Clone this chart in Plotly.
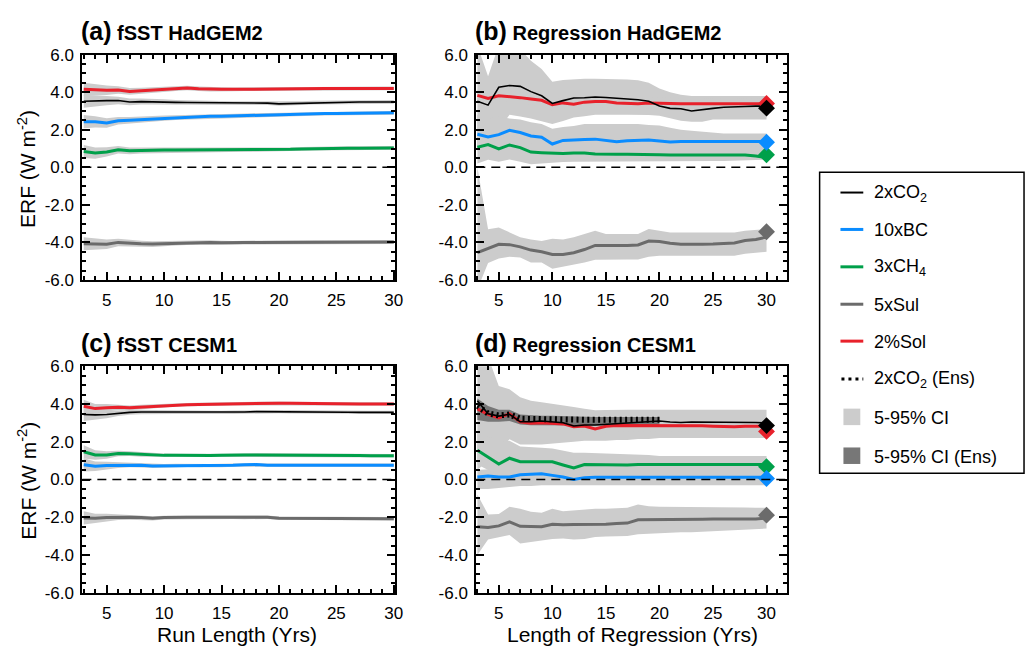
import plotly.graph_objects as go

# ---------------- data ----------------
years = list(range(3, 31))            # run length / length of regression (yrs)
years_ens = list(range(3, 21))

# (a) fSST HadGEM2
a_co2 = [3.52,3.55,3.55,3.56,3.48,3.50,3.50,3.48,3.46,3.45,3.45,3.43,3.42,3.42,3.42,3.42,3.42,3.38,3.40,3.42,3.44,3.45,3.46,3.47,3.48,3.48,3.48,3.48]
a_bc = [2.43,2.42,2.36,2.48,2.50,2.53,2.58,2.62,2.65,2.68,2.70,2.72,2.72,2.74,2.76,2.78,2.79,2.80,2.82,2.83,2.85,2.86,2.87,2.88,2.89,2.90,2.90,2.90]
a_ch4 = [0.84,0.76,0.82,0.93,0.88,0.90,0.91,0.92,0.92,0.92,0.92,0.92,0.92,0.92,0.93,0.93,0.93,0.93,0.96,0.98,1.00,1.02,1.02,1.02,1.02,1.02,1.03,1.03]
a_sul = [-4.07,-4.10,-4.10,-4.00,-4.05,-4.07,-4.09,-4.07,-4.04,-4.02,-4.00,-4.00,-4.02,-4.03,-4.01,-4.00,-4.00,-4.00,-3.99,-3.99,-3.98,-3.98,-3.97,-3.97,-3.98,-3.98,-3.98,-3.98]
a_sol = [4.15,4.12,4.10,4.12,4.04,4.08,4.12,4.16,4.20,4.22,4.18,4.15,4.15,4.15,4.16,4.17,4.17,4.17,4.18,4.18,4.18,4.19,4.19,4.19,4.20,4.20,4.20,4.20]
a_ci = [0.35,0.30,0.25,0.20,0.18,0.16,0.15,0.14,0.13,0.12,0.12,0.11,0.11,0.10,0.10,0.10,0.10,0.10,0.10,0.10,0.10,0.10,0.10,0.10,0.10,0.10,0.10,0.10]

# (c) fSST CESM1
c_co2 = [3.45,3.43,3.45,3.52,3.56,3.58,3.58,3.58,3.57,3.56,3.56,3.55,3.56,3.57,3.58,3.60,3.60,3.60,3.59,3.58,3.58,3.57,3.57,3.57,3.56,3.56,3.56,3.56]
c_bc = [0.78,0.70,0.74,0.76,0.78,0.76,0.72,0.72,0.74,0.75,0.74,0.73,0.74,0.76,0.78,0.79,0.76,0.76,0.76,0.76,0.76,0.76,0.76,0.76,0.76,0.76,0.76,0.76]
c_ch4 = [1.47,1.30,1.30,1.38,1.37,1.33,1.30,1.28,1.28,1.27,1.27,1.27,1.28,1.30,1.30,1.30,1.30,1.30,1.30,1.30,1.30,1.30,1.28,1.28,1.27,1.26,1.26,1.26]
c_sul = [-2.04,-2.06,-2.02,-2.00,-2.00,-2.02,-2.06,-2.02,-2.00,-2.00,-2.00,-2.00,-2.00,-2.00,-2.02,-2.02,-2.00,-2.05,-2.05,-2.05,-2.05,-2.05,-2.06,-2.06,-2.07,-2.07,-2.08,-2.08]
c_sol = [3.88,3.76,3.80,3.83,3.80,3.84,3.88,3.92,3.96,3.97,3.98,3.99,4.00,4.02,4.03,4.05,4.05,4.05,4.04,4.03,4.02,4.02,4.02,4.01,4.01,4.01,4.01,4.01]
c_ci = [0.35,0.25,0.20,0.15,0.13,0.12,0.11,0.10,0.09,0.09,0.09,0.09,0.09,0.09,0.09,0.09,0.09,0.09,0.09,0.09,0.09,0.09,0.09,0.09,0.09,0.09,0.09,0.09]

# (b) Regression HadGEM2
b_co2 = [3.52,3.31,4.26,4.36,4.31,4.03,3.81,3.40,3.55,3.69,3.70,3.74,3.72,3.69,3.67,3.60,3.52,3.26,3.14,3.12,3.00,3.05,3.14,3.20,3.24,3.24,3.26,3.26]
b_co2_hi = [6.5,4.85,6.5,6.5,6.3,5.67,5.24,4.55,4.65,4.70,4.72,4.72,4.72,4.70,4.68,4.64,4.50,4.20,4.00,3.86,3.80,3.80,3.80,3.80,3.80,3.80,3.80,3.80]
b_co2_lo = [1.0,1.5,2.0,2.8,2.7,2.6,2.45,2.3,2.47,2.65,2.72,2.8,2.8,2.8,2.8,2.8,2.78,2.74,2.6,2.48,2.43,2.43,2.55,2.55,2.55,2.55,2.55,2.55]
b_bc = [1.76,1.62,1.74,1.97,1.85,1.67,1.60,1.24,1.43,1.47,1.48,1.50,1.45,1.36,1.41,1.45,1.45,1.40,1.35,1.37,1.38,1.39,1.38,1.38,1.37,1.38,1.38,1.38]
b_bc_hi = [2.8,2.6,2.7,2.6,2.55,2.4,2.3,2.05,2.15,2.2,2.3,2.3,2.3,2.3,2.3,2.3,2.25,2.22,2.1,2.0,1.95,1.9,1.85,1.8,1.8,1.8,1.8,1.8]
b_bc_lo = [1.0,0.9,1.0,1.2,1.1,0.95,0.9,0.6,0.75,0.8,0.8,0.85,0.8,0.75,0.8,0.85,0.85,0.8,0.8,0.8,0.8,0.8,0.8,0.8,0.8,0.8,0.8,0.8]
b_ch4 = [1.07,1.21,0.98,1.19,1.05,0.81,0.78,0.74,0.74,0.76,0.76,0.71,0.69,0.69,0.69,0.67,0.67,0.67,0.66,0.66,0.66,0.66,0.67,0.67,0.67,0.66,0.60,0.52]
b_ch4_hi = [1.6,1.7,1.5,1.7,1.55,1.3,1.25,1.2,1.2,1.25,1.25,1.2,1.2,1.2,1.2,1.15,1.15,1.15,1.15,1.15,1.15,1.15,1.15,1.15,1.15,1.15,1.1,1.05]
b_ch4_lo = [0.2,0.4,0.3,0.41,0.3,0.16,0.2,0.24,0.28,0.3,0.32,0.33,0.33,0.33,0.33,0.33,0.33,0.33,0.33,0.33,0.33,0.33,0.33,0.33,0.33,0.35,0.38,0.4]
b_sul = [-4.55,-4.33,-4.10,-4.12,-4.24,-4.41,-4.50,-4.64,-4.64,-4.55,-4.38,-4.16,-4.17,-4.17,-4.17,-4.14,-3.93,-3.95,-4.05,-4.10,-4.12,-4.10,-4.09,-4.07,-4.03,-3.90,-3.84,-3.72]
b_sul_hi = [0.0,-3.3,-3.21,-3.47,-3.72,-3.84,-3.93,-3.81,-3.84,-3.72,-3.55,-3.38,-3.55,-3.55,-3.55,-3.55,-3.29,-3.4,-3.47,-3.47,-3.47,-3.47,-3.47,-3.47,-3.47,-3.38,-3.33,-3.29]
b_sul_lo = [-6.5,-5.1,-4.86,-4.76,-4.81,-5.07,-5.07,-5.4,-5.3,-5.19,-5.07,-4.93,-4.91,-4.91,-4.91,-4.91,-4.76,-4.71,-4.71,-4.71,-4.71,-4.71,-4.71,-4.71,-4.71,-4.6,-4.55,-4.5]
b_sol = [3.83,3.67,3.81,3.78,3.71,3.64,3.57,3.33,3.43,3.36,3.47,3.50,3.50,3.43,3.40,3.38,3.43,3.40,3.40,3.38,3.38,3.37,3.36,3.36,3.35,3.35,3.36,3.38]
b_sol_ci = [0.3,0.3,0.3,0.3,0.3,0.3,0.3,0.3,0.3,0.3,0.3,0.3,0.3,0.3,0.3,0.3,0.3,0.3,0.3,0.3,0.3,0.3,0.3,0.3,0.3,0.3,0.3,0.3]
b_end = {"co2": 3.15, "bc": 1.33, "ch4": 0.67, "sul": -3.43, "sol": 3.40}

# (d) Regression CESM1
d_co2 = [4.18,3.49,3.36,3.46,3.06,3.06,3.10,3.06,3.01,2.84,2.89,2.89,2.93,2.98,3.01,3.06,3.06,3.10,3.05,3.02,3.05,3.05,3.05,3.04,3.05,3.04,3.02,3.00]
d_co2_hi = [6.5,6.5,4.96,4.79,4.36,4.18,4.1,4.0,3.92,3.84,3.75,3.67,3.68,3.7,3.7,3.7,3.7,3.7,3.7,3.7,3.7,3.7,3.7,3.7,3.7,3.7,3.7,3.7]
d_co2_lo = [0.5,1.0,1.5,2.13,1.86,1.86,1.86,1.9,1.95,2.0,2.05,2.05,2.05,2.1,2.1,2.15,2.15,2.2,2.2,2.2,2.2,2.2,2.2,2.2,2.2,2.2,2.2,2.2]
d_bc = [0.13,0.18,0.13,0.13,0.25,0.28,0.30,0.22,0.13,0.00,0.10,0.12,0.12,0.12,0.13,0.14,0.14,0.14,0.13,0.13,0.12,0.12,0.12,0.12,0.12,0.12,0.12,0.12]
d_bc_hi = [0.5,0.55,0.5,0.5,0.6,0.62,0.65,0.57,0.48,0.35,0.45,0.47,0.47,0.47,0.48,0.49,0.49,0.49,0.48,0.48,0.47,0.47,0.47,0.47,0.47,0.47,0.47,0.47]
d_bc_lo = [-0.5,-0.5,-0.46,-0.4,-0.35,-0.35,-0.3,-0.3,-0.3,-0.32,-0.3,-0.3,-0.3,-0.3,-0.3,-0.3,-0.3,-0.3,-0.3,-0.3,-0.3,-0.3,-0.3,-0.3,-0.3,-0.3,-0.3,-0.3]
d_ch4 = [1.55,1.20,0.82,1.13,0.94,0.94,0.94,0.94,0.77,0.61,0.79,0.78,0.77,0.76,0.77,0.80,0.80,0.80,0.79,0.78,0.78,0.79,0.80,0.80,0.80,0.80,0.80,0.80]
d_ch4_hi = [2.5,2.3,2.0,2.05,1.75,1.7,1.68,1.65,1.55,1.42,1.42,1.4,1.4,1.38,1.35,1.32,1.3,1.25,1.25,1.25,1.25,1.25,1.25,1.25,1.25,1.25,1.25,1.25]
d_ch4_lo = [0.8,0.5,0.2,0.5,0.4,0.4,0.4,0.4,0.3,0.2,0.3,0.3,0.3,0.3,0.3,0.35,0.35,0.35,0.35,0.35,0.35,0.35,0.35,0.35,0.35,0.35,0.35,0.35]
d_sul = [-2.51,-2.54,-2.46,-2.25,-2.48,-2.51,-2.50,-2.37,-2.40,-2.39,-2.39,-2.39,-2.37,-2.33,-2.31,-2.14,-2.14,-2.13,-2.13,-2.12,-2.12,-2.11,-2.10,-2.10,-2.09,-2.09,-2.09,-2.05]
d_sul_hi = [-0.8,-1.85,-1.83,-1.45,-1.55,-1.71,-1.76,-1.55,-1.68,-1.63,-1.6,-1.55,-1.55,-1.52,-1.5,-1.33,-1.42,-1.45,-1.45,-1.45,-1.45,-1.45,-1.47,-1.47,-1.48,-1.48,-1.5,-1.5]
d_sul_lo = [-4.0,-3.18,-3.06,-2.94,-3.4,-3.32,-3.23,-3.15,-3.13,-3.18,-3.15,-3.05,-3.02,-3.0,-3.0,-2.9,-2.85,-2.84,-2.82,-2.8,-2.8,-2.78,-2.75,-2.72,-2.7,-2.66,-2.63,-2.6]
d_sol = [3.75,3.46,3.27,3.49,3.06,2.98,3.01,2.98,2.95,2.80,2.84,2.68,2.82,2.86,2.86,2.85,2.85,2.86,2.88,2.88,2.86,2.85,2.83,2.80,2.80,2.82,2.82,2.82]
d_sol_ci = [0.3,0.3,0.3,0.3,0.3,0.3,0.3,0.3,0.3,0.3,0.3,0.3,0.3,0.3,0.3,0.3,0.3,0.3,0.3,0.3,0.3,0.3,0.3,0.3,0.3,0.3,0.3,0.3]
d_ens = [3.9,3.5,3.4,3.45,3.22,3.2,3.2,3.2,3.2,3.18,3.17,3.17,3.17,3.17,3.17,3.17,3.17,3.17]
d_ens_hi = [4.3,3.9,3.7,3.7,3.45,3.4,3.38,3.38,3.36,3.35,3.33,3.32,3.32,3.32,3.32,3.32,3.32,3.32]
d_ens_lo = [3.15,3.06,3.06,3.1,2.92,2.88,2.88,2.86,2.86,2.86,2.86,2.86,2.86,2.86,2.86,2.86,2.86,2.86]
d_end = {"co2": 2.86, "bc": 0.05, "ch4": 0.68, "sul": -1.89, "sol": 2.55}

y_ticks = [-6, -4, -2, 0, 2, 4, 6]
y_ticktext = ["-6.0", "-4.0", "-2.0", "0.0", "2.0", "4.0", "6.0"]
x_ticks = [5, 10, 15, 20, 25, 30]

legend_labels = ["2xCO<sub>2</sub>", "10xBC", "3xCH<sub>4</sub>", "5xSul", "2%Sol",
                 "2xCO<sub>2</sub> (Ens)", "5-95% CI", "5-95% CI (Ens)"]

# ---------------- styles ----------------
FONT = "Liberation Sans, Arial, Helvetica, sans-serif"
COL = {"co2": "#000000", "bc": "#0a8cff", "ch4": "#00a04a", "sul": "#6b6b6b", "sol": "#e8212b"}
LW = {"co2": 1.6, "bc": 3, "ch4": 3, "sul": 3, "sol": 3}
CI_FILL = "#cccccc"
ENS_FILL = "#777777"
W, H = 1036, 658

fig = go.Figure()


def band(xa, ya, xs, lo, hi, color):
    fig.add_trace(go.Scatter(x=list(xs) + list(xs)[::-1], y=list(hi) + list(lo)[::-1],
                             fill="toself", fillcolor=color, line=dict(width=0),
                             mode="lines", hoverinfo="skip", showlegend=False,
                             xaxis=xa, yaxis=ya))


def line(xa, ya, xs, ys, key):
    fig.add_trace(go.Scatter(x=xs, y=ys, mode="lines",
                             line=dict(color=COL[key], width=LW[key]),
                             showlegend=False, xaxis=xa, yaxis=ya))


def diamond(xa, ya, xv, yv, key):
    fig.add_trace(go.Scatter(x=[xv], y=[yv], mode="markers",
                             marker=dict(symbol="diamond", size=13, color=COL[key], line=dict(width=0)),
                             showlegend=False, xaxis=xa, yaxis=ya, cliponaxis=False))


# ---- fSST panels (a, c): symmetric CI
for xa, ya, series, ci in [("x", "y", dict(co2=a_co2, bc=a_bc, ch4=a_ch4, sul=a_sul, sol=a_sol), a_ci),
                           ("x3", "y3", dict(co2=c_co2, bc=c_bc, ch4=c_ch4, sul=c_sul, sol=c_sol), c_ci)]:
    for key in ["co2", "bc", "ch4", "sul", "sol"]:
        vals = series[key]
        band(xa, ya, years, [v - h for v, h in zip(vals, ci)], [v + h for v, h in zip(vals, ci)], CI_FILL)
    for key in ["sul", "ch4", "bc", "sol", "co2"]:
        line(xa, ya, years, series[key], key)

# ---- Regression HadGEM2 (b)
band("x2", "y2", years, b_co2_lo, b_co2_hi, CI_FILL)
band("x2", "y2", years, [v - h for v, h in zip(b_sol, b_sol_ci)], [v + h for v, h in zip(b_sol, b_sol_ci)], CI_FILL)
band("x2", "y2", years, b_bc_lo, b_bc_hi, CI_FILL)
band("x2", "y2", years, b_ch4_lo, b_ch4_hi, CI_FILL)
band("x2", "y2", years, b_sul_lo, b_sul_hi, CI_FILL)
for key, vals in [("sul", b_sul), ("ch4", b_ch4), ("bc", b_bc), ("sol", b_sol), ("co2", b_co2)]:
    line("x2", "y2", years, vals, key)
for key in ["sul", "ch4", "bc", "sol", "co2"]:
    diamond("x2", "y2", years[-1], b_end[key], key)

# ---- Regression CESM1 (d)
band("x4", "y4", years, d_co2_lo, d_co2_hi, CI_FILL)
band("x4", "y4", years, [v - h for v, h in zip(d_sol, d_sol_ci)], [v + h for v, h in zip(d_sol, d_sol_ci)], CI_FILL)
band("x4", "y4", years, d_bc_lo, d_bc_hi, CI_FILL)
band("x4", "y4", years, d_ch4_lo, d_ch4_hi, CI_FILL)
band("x4", "y4", years, d_sul_lo, d_sul_hi, CI_FILL)
band("x4", "y4", years_ens, d_ens_lo, d_ens_hi, ENS_FILL)
for key, vals in [("sul", d_sul), ("ch4", d_ch4), ("bc", d_bc), ("sol", d_sol), ("co2", d_co2)]:
    line("x4", "y4", years, vals, key)
fig.add_trace(go.Scatter(x=years_ens, y=d_ens, mode="lines",
                         line=dict(color="black", width=6, dash="2px,3.4px"),
                         showlegend=False, xaxis="x4", yaxis="y4"))
for key in ["sul", "ch4", "bc", "sol", "co2"]:
    diamond("x4", "y4", years[-1], d_end[key], key)

# ---------------- axes ----------------
def px_x(p):
    return p / W


def px_y(p):
    return 1 - p / H


panels = {
    "": ((83, 398), (47, 279), (2.88, 30.1)),
    "2": ((480, 793), (47, 279), (2.9, 31.9)),
    "3": ((83, 398), (368, 601), (2.88, 30.1)),
    "4": ((480, 793), (368, 601), (2.9, 31.9)),
}
layout = {}
for suf, ((x0, x1), (y0, y1), xr) in panels.items():
    common = dict(showline=True, linewidth=2, linecolor="black", mirror="allticks",
                  ticks="inside", ticklen=8, tickwidth=2, tickcolor="black",
                  showgrid=False, zeroline=False,
                  tickfont=dict(family=FONT, size=17, color="black"))
    layout["xaxis" + suf] = dict(common, domain=[px_x(x0), px_x(x1)], range=list(xr),
                                 anchor="y" + suf, tickvals=x_ticks,
                                 ticktext=[str(v) for v in x_ticks], ticklabelstandoff=4,
                                 minor=dict(ticks="inside", ticklen=4, tickwidth=2,
                                            tickcolor="black", dtick=1, tick0=0))
    layout["yaxis" + suf] = dict(common, domain=[px_y(y1), px_y(y0)], range=[-6, 6],
                                 anchor="x" + suf, tickvals=y_ticks, ticktext=y_ticktext,
                                 ticklabelstandoff=3,
                                 minor=dict(ticks="inside", ticklen=4, tickwidth=2,
                                            tickcolor="black", dtick=0.5, tick0=0))

fig.update_layout(**layout)

shapes = []
for suf in ["", "2", "3", "4"]:
    xref = ("x" + suf) if suf else "x"
    yref = ("y" + suf) if suf else "y"
    shapes.append(dict(type="line", xref=xref + " domain", yref=yref, x0=0, x1=1, y0=0, y1=0,
                       line=dict(color="black", width=1.6, dash="9px,6px"), layer="above"))

annotations = []
titles = [("(a)", "fSST HadGEM2", 83, 23), ("(b)", "Regression HadGEM2", 480, 23),
          ("(c)", "fSST CESM1", 83, 344), ("(d)", "Regression CESM1", 480, 344)]
for tag, name, xp, yp in titles:
    annotations.append(dict(xref="paper", yref="paper", x=px_x(xp - 3), y=px_y(yp),
                            xanchor="left", yanchor="middle", showarrow=False,
                            text=f"<b><span style='font-size:25px'>{tag}</span> {name}</b>",
                            font=dict(family=FONT, size=20, color="black")))

for yc in [165, 486]:
    annotations.append(dict(xref="paper", yref="paper", x=px_x(27), y=px_y(yc),
                            xanchor="center", yanchor="middle", showarrow=False, textangle=-90,
                            text="ERF (W m<sup>-2</sup>)",
                            font=dict(family=FONT, size=21, color="black")))

annotations.append(dict(xref="paper", yref="paper", x=px_x(239), y=px_y(644),
                        xanchor="center", yanchor="middle", showarrow=False,
                        text="Run Length (Yrs)", font=dict(family=FONT, size=21, color="black")))
annotations.append(dict(xref="paper", yref="paper", x=px_x(637), y=px_y(644),
                        xanchor="center", yanchor="middle", showarrow=False,
                        text="Length of Regression (Yrs)", font=dict(family=FONT, size=21, color="black")))

# ---------------- legend (drawn) ----------------
shapes.append(dict(type="rect", xref="paper", yref="paper", x0=px_x(826), x1=px_x(1032),
                   y0=px_y(478), y1=px_y(168), line=dict(color="black", width=1.5),
                   fillcolor="white", layer="below"))
leg_y = [189, 227, 265.5, 304, 342, 381, 420, 460]
leg_kind = [("line", "co2"), ("line", "bc"), ("line", "ch4"), ("line", "sul"), ("line", "sol"),
            ("dot", "co2"), ("box", CI_FILL), ("box", ENS_FILL)]
for label, yc, (kind, k) in zip(legend_labels, leg_y, leg_kind):
    if kind == "line":
        shapes.append(dict(type="line", xref="paper", yref="paper", x0=px_x(847), x1=px_x(870),
                           y0=px_y(yc), y1=px_y(yc),
                           line=dict(color=COL[k], width=2 if k == "co2" else 3)))
    elif kind == "dot":
        shapes.append(dict(type="line", xref="paper", yref="paper", x0=px_x(848), x1=px_x(870),
                           y0=px_y(yc), y1=px_y(yc),
                           line=dict(color="black", width=3, dash="3px,4px")))
    else:
        shapes.append(dict(type="rect", xref="paper", yref="paper", x0=px_x(850), x1=px_x(867),
                           y0=px_y(yc + 8.5), y1=px_y(yc - 8.5), line=dict(width=0), fillcolor=k))
    annotations.append(dict(xref="paper", yref="paper", x=px_x(879), y=px_y(yc + 1),
                            xanchor="left", yanchor="middle", showarrow=False, text=label,
                            font=dict(family=FONT, size=18, color="black")))

fig.update_layout(width=W, height=H, margin=dict(l=0, r=0, t=0, b=0),
                  paper_bgcolor="white", plot_bgcolor="white", showlegend=False,
                  shapes=shapes, annotations=annotations,
                  font=dict(family=FONT, color="black"))

fig.write_html("out.html")
